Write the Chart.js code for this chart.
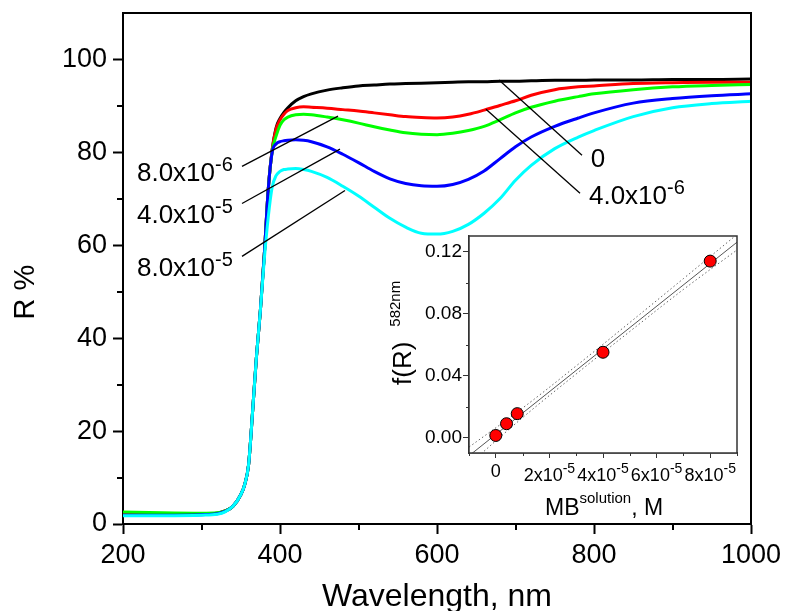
<!DOCTYPE html>
<html><head><meta charset="utf-8">
<script src="https://cdn.jsdelivr.net/npm/chart.js@4.4.1/dist/chart.umd.min.js"></script>
<style>
html,body{margin:0;padding:0;background:#fff;overflow:hidden;}
#wrap{position:relative;width:786px;height:611px;}
#main{position:absolute;left:0;top:0;}
#inset{position:absolute;left:380px;top:226px;}
</style></head><body>
<div id="wrap"><canvas id="main" width="786" height="611"></canvas><canvas id="inset" width="370" height="296"></canvas></div>
<script>
// ---------- main chart data ----------
const wavelengths = [200,250,300,320,330,340,350,355,360,365,370,375,380,385,390,395,400,405,410,420,430,440,460,480,500,520,540,560,580,600,620,640,660,680,700,720,750,780,800,850,900,950,1000];
const R_0      = [2.0,2.0,2.1,2.3,2.8, 3.8,6.3,8.5,12.8,24, 36,46,58,72,80.5, 85.3,87.3,88.6,89.6,91.1, 92.0,92.6,93.4,93.9,94.3, 94.5,94.7,94.8,94.9,95.0, 95.1,95.2,95.2,95.3,95.3, 95.4,95.5,95.5,95.6,95.6, 95.7,95.7,95.8];
const R_4e6    = [2.0,2.0,2.1,2.3,2.8, 3.8,6.3,8.5,12.8,24, 36,46,58,72,80.5, 85.0,87.0,88.2,89.0,89.6, 89.8,89.7,89.5,89.2,88.9, 88.5,88.1,87.7,87.5,87.4, 87.6,88.2,89.1,90.1,91.1, 92.3,93.5,94.1,94.3,94.8, 95.0,95.1,95.1];
const R_8e6    = [2.6,2.4,2.3,2.4,2.8, 3.8,6.3,8.5,12.8,24, 36,46,58,72,80.2, 83.5,85.8,87.0,87.6,88.1, 88.2,88.1,87.6,87.0,86.3, 85.5,84.8,84.2,83.9,83.8, 84.1,84.7,85.6,87.0,88.5, 89.7,91.0,92.0,92.6,93.5, 94.1,94.4,94.6];
const R_4e5    = [1.9,1.9,2.0,2.2,2.7, 3.8,6.3,8.5,12.8,24, 36,46,58,72,80.0, 81.8,82.3,82.5,82.6,82.7, 82.6,82.3,81.2,79.6,77.8, 75.9,74.3,73.3,72.8,72.7, 73.1,74.2,76.0,78.6,81.2, 83.3,85.6,87.4,88.5,90.6, 91.6,92.2,92.6];
const R_8e5    = [1.8,1.8,1.9,2.1,2.6, 3.8,6.3,8.5,12.8,24, 36,46,57,66,72.5, 75.0,75.9,76.3,76.4,76.5, 76.3,75.9,74.6,72.7,70.6, 68.2,65.8,63.9,62.6,62.4, 63.0,64.5,66.9,70.0,74.0, 77.2,80.8,83.3,84.7,87.7, 89.6,90.5,91.0];
const xTicks = [200,400,600,800,1000];
const xMinor = [300,500,700,900];
const yTicks = [0,20,40,60,80,100];
const yMinor = [10,30,50,70,90];

// ---------- inset data ----------
const mbConc = [0, 4e-6, 8e-6, 4e-5, 8e-5];
const fR582  = [0.0013, 0.0089, 0.0154, 0.055, 0.1138];
const fitX   = [-1e-5, 9e-5];
const fitY   = [-0.0118, 0.126];
const bandX  = [-1e-5, 1e-5, 3e-5, 5e-5, 7e-5, 9e-5];
const bandUp = [-0.0062, 0.0190, 0.0462, 0.0742, 0.1025, 0.1310];
const bandLo = [-0.0174, 0.0128, 0.0410, 0.0684, 0.0955, 0.1210];
const insetXTicks = [0, 2e-5, 4e-5, 6e-5, 8e-5];
const insetXTickBase = ['0','2x10','4x10','6x10','8x10'];
const insetXTickSup  = ['','-5','-5','-5','-5'];
const insetXMinor = [-1e-5, 1e-5, 3e-5, 5e-5, 7e-5, 9e-5];
const insetYTicks = [0, 0.04, 0.08, 0.12];
const insetYMinor = [0.02, 0.06, 0.10];

const FONT = '"Liberation Sans", Arial, Helvetica, sans-serif';

const series = [
  {label:'0',        values:R_0,   color:'#000000', order:5},
  {label:'4.0x10-6', values:R_4e6, color:'#ff0000', order:4},
  {label:'8.0x10-6', values:R_8e6, color:'#00ff00', order:3},
  {label:'4.0x10-5', values:R_4e5, color:'#0000ff', order:2},
  {label:'8.0x10-5', values:R_8e5, color:'#00ffff', order:1}
];

// annotation labels (data coords of text start / baseline) and leader lines
const annLabels = [
  {base:'8.0x10', sup:'-6', x:217.8, y:73.8},
  {base:'4.0x10', sup:'-5', x:217.8, y:64.7},
  {base:'8.0x10', sup:'-5', x:217.8, y:53.3},
  {base:'0',      sup:'',   x:795.8, y:76.8},
  {base:'4.0x10', sup:'-6', x:793.6, y:68.8}
];
const leaders = [
  [351.6, 77.0, 473.9, 87.8],
  [351.6, 69.0, 476.4, 80.7],
  [351.6, 57.6, 482.8, 71.8],
  [679.0, 95.6, 784.7, 79.4],
  [662.4, 89.3, 782.2, 71.2]
];

function supText(ctx, x, y, base, sup, bs, ss, raise){
  ctx.font = bs + 'px ' + FONT;
  ctx.fillText(base, x, y);
  const w = ctx.measureText(base).width;
  if (sup){ ctx.font = ss + 'px ' + FONT; ctx.fillText(sup, x + w, y - raise); }
}
function setTicks(vals){ return s => { s.ticks = vals.map(v => ({value:v})); }; }

const mainDecor = {
  id:'mainDecor',
  afterDatasetsDraw(chart){
    const {ctx, scales:{x, y}} = chart;
    ctx.save();
    ctx.strokeStyle = '#000'; ctx.lineWidth = 1.3;
    leaders.forEach(l => {
      ctx.beginPath();
      ctx.moveTo(x.getPixelForValue(l[0]), y.getPixelForValue(l[1]));
      ctx.lineTo(x.getPixelForValue(l[2]), y.getPixelForValue(l[3]));
      ctx.stroke();
    });
    ctx.restore();
  },
  afterDraw(chart){
    const {ctx, scales:{x, y}, chartArea:a} = chart;
    ctx.save();
    ctx.strokeStyle = '#000'; ctx.lineWidth = 2;
    ctx.beginPath(); ctx.moveTo(a.left - 1, a.top); ctx.lineTo(a.right, a.top); ctx.lineTo(a.right, a.bottom + 1); ctx.stroke();
    xMinor.forEach(v => { const px = Math.round(x.getPixelForValue(v)); ctx.beginPath(); ctx.moveTo(px, a.bottom); ctx.lineTo(px, a.bottom + 6); ctx.stroke(); });
    yMinor.forEach(v => { const py = Math.round(y.getPixelForValue(v)); ctx.beginPath(); ctx.moveTo(a.left, py); ctx.lineTo(a.left - 6, py); ctx.stroke(); });
    ctx.fillStyle = '#000'; ctx.textAlign = 'left'; ctx.textBaseline = 'alphabetic';
    annLabels.forEach(l => supText(ctx, x.getPixelForValue(l.x), y.getPixelForValue(l.y), l.base, l.sup, 26, 20, 10));
    // axis titles
    ctx.font = '32px ' + FONT; ctx.textAlign = 'center';
    ctx.fillText('Wavelength, nm', (a.left + a.right) / 2, 606);
    ctx.save(); ctx.translate(34, 292); ctx.rotate(-Math.PI / 2);
    ctx.font = '29px ' + FONT; ctx.fillText('R %', 0, 0);
    ctx.restore();
    ctx.restore();
  }
};

new Chart(document.getElementById('main'), {
  type:'line',
  data:{ datasets: series.map(s => ({
    label:s.label,
    data: wavelengths.map((w, i) => ({x:w, y:s.values[i]})),
    borderColor:s.color, borderWidth:3, pointRadius:0, fill:false,
    cubicInterpolationMode:'monotone', order:s.order
  }))},
  options:{
    responsive:false, animation:false, devicePixelRatio:1,
    layout:{padding:{top:13, right:35, left:0, bottom:0}},
    plugins:{legend:{display:false}, tooltip:{enabled:false}},
    scales:{
      x:{type:'linear', min:200, max:1000,
        afterBuildTicks:setTicks(xTicks),
        afterFit:s => { s.height = 87; s.paddingLeft = 0; s.paddingRight = 0; },
        ticks:{font:{family:FONT, size:27}, color:'#000', padding:5, maxRotation:0, autoSkip:false, callback:v => String(v)},
        grid:{display:true, drawOnChartArea:false, drawTicks:true, tickLength:10, tickWidth:2, tickColor:'#000'},
        border:{display:true, color:'#000', width:2}},
      y:{type:'linear', min:0, max:110,
        afterBuildTicks:setTicks(yTicks),
        afterFit:s => { s.width = 123; s.paddingTop = 0; s.paddingBottom = 0; },
        ticks:{font:{family:FONT, size:27}, color:'#000', padding:6, autoSkip:false, callback:v => String(v)},
        grid:{display:true, drawOnChartArea:false, drawTicks:true, tickLength:10, tickWidth:2, tickColor:'#000'},
        border:{display:true, color:'#000', width:2}}
    }
  },
  plugins:[mainDecor]
});

// ---------- inset ----------
const insetDecor = {
  id:'insetDecor',
  beforeDatasetsDraw(chart){
    const {ctx, chartArea:a} = chart;
    ctx.save(); ctx.fillStyle = '#fff'; ctx.fillRect(a.left, a.top, a.right - a.left, a.bottom - a.top); ctx.restore();
  },
  afterDraw(chart){
    const {ctx, scales:{x, y}, chartArea:a} = chart;
    ctx.save();
    ctx.strokeStyle = '#333'; ctx.lineWidth = 1;
    insetXMinor.forEach(v => { const px = Math.round(x.getPixelForValue(v)) + 0.5; ctx.beginPath(); ctx.moveTo(px, a.bottom); ctx.lineTo(px, a.bottom + 3); ctx.stroke(); });
    insetYMinor.forEach(v => { const py = Math.round(y.getPixelForValue(v)) + 0.5; ctx.beginPath(); ctx.moveTo(a.left, py); ctx.lineTo(a.left - 3, py); ctx.stroke(); });
    ctx.lineWidth = 1.5; ctx.strokeRect(a.left, a.top, a.right - a.left, a.bottom - a.top);
    ctx.fillStyle = '#000'; ctx.textAlign = 'left'; ctx.textBaseline = 'alphabetic';
    insetXTicks.forEach((v, i) => {
      const px = x.getPixelForValue(v);
      ctx.font = '18px ' + FONT; const wb = ctx.measureText(insetXTickBase[i]).width;
      ctx.font = '14px ' + FONT; const ws = insetXTickSup[i] ? ctx.measureText(insetXTickSup[i]).width : 0;
      supText(ctx, px - (wb + ws) / 2, a.bottom + (insetXTickSup[i] ? 28 : 24), insetXTickBase[i], insetXTickSup[i], 18, 14, 8);
    });
    // x title
    supText(ctx, 165, 289, 'MB', 'solution', 23, 15, 12);
    ctx.font = '15px ' + FONT; const wsol = ctx.measureText('solution').width;
    ctx.font = '23px ' + FONT; const wmb = ctx.measureText('MB').width;
    ctx.fillText(', M', 165 + wmb + wsol, 289);
    // y title
    ctx.save(); ctx.translate(31, 159); ctx.rotate(-Math.PI / 2);
    ctx.font = '26px ' + FONT; ctx.fillText('f(R)', 0, 0);
    const wf = ctx.measureText('f(R)').width;
    ctx.font = '15px ' + FONT; ctx.fillText('582nm', wf + 15, -11);
    ctx.restore();
    ctx.restore();
  }
};

new Chart(document.getElementById('inset'), {
  type:'scatter',
  data:{datasets:[
    {label:'data', data:mbConc.map((c, i) => ({x:c, y:fR582[i]})), pointRadius:6, pointBackgroundColor:'#ff0000', pointBorderColor:'#000', pointBorderWidth:1, showLine:false, order:0},
    {label:'fit', data:fitX.map((c, i) => ({x:c, y:fitY[i]})), showLine:true, borderColor:'#555', borderWidth:1, pointRadius:0, order:1},
    {label:'upper', data:bandX.map((c, i) => ({x:c, y:bandUp[i]})), showLine:true, borderColor:'#666', borderWidth:1, borderDash:[1.5,2.5], pointRadius:0, tension:0.4, order:2},
    {label:'lower', data:bandX.map((c, i) => ({x:c, y:bandLo[i]})), showLine:true, borderColor:'#666', borderWidth:1, borderDash:[1.5,2.5], pointRadius:0, tension:0.4, order:3}
  ]},
  options:{
    responsive:false, animation:false, devicePixelRatio:1,
    layout:{padding:{top:10, right:13, left:0, bottom:0}},
    plugins:{legend:{display:false}, tooltip:{enabled:false}},
    scales:{
      x:{type:'linear', min:-1e-5, max:9e-5,
        afterBuildTicks:setTicks(insetXTicks),
        afterFit:s => { s.height = 69; s.paddingLeft = 0; s.paddingRight = 0; },
        ticks:{display:false},
        grid:{display:true, drawOnChartArea:false, drawTicks:true, tickLength:5, tickWidth:1, tickColor:'#333'},
        border:{display:true, color:'#333', width:1.5}},
      y:{type:'linear', min:-0.01, max:0.13,
        afterBuildTicks:setTicks(insetYTicks),
        afterFit:s => { s.width = 89; s.paddingTop = 0; s.paddingBottom = 0; },
        ticks:{font:{family:FONT, size:19}, color:'#000', padding:1, autoSkip:false, callback:v => v.toFixed(2)},
        grid:{display:true, drawOnChartArea:false, drawTicks:true, tickLength:6, tickWidth:1, tickColor:'#333'},
        border:{display:true, color:'#333', width:1.5}}
    }
  },
  plugins:[insetDecor]
});
</script>
</body></html>
